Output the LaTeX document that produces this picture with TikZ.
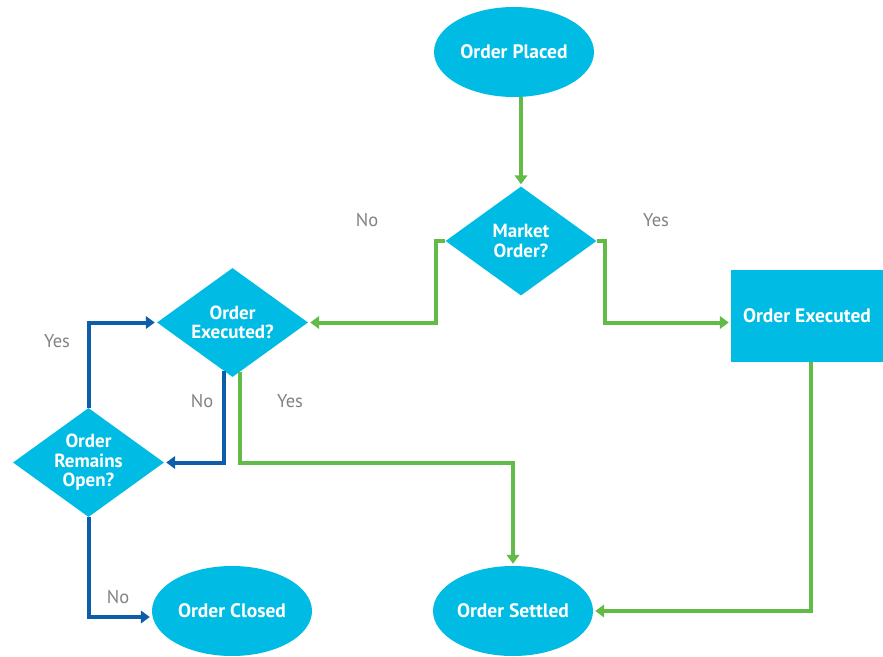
\documentclass[tikz,border=0pt]{standalone}
\usepackage{fontspec}
\setmainfont{PT Sans}
\usepackage{tikz}
\usetikzlibrary{shapes.geometric, arrows.meta, positioning, calc}

\definecolor{boxcyan}{HTML}{00BCE4}
\definecolor{flowgreen}{HTML}{62BB46}
\definecolor{loopblue}{HTML}{0E5DAA}
\definecolor{answergray}{HTML}{808285}

\begin{document}
\begin{tikzpicture}[
    x=1pt, y=-1pt,
    terminal/.style={
        ellipse,
        fill=boxcyan,
        text=white,
        inner sep=0pt,
        minimum width=160pt,
        minimum height=90pt,
        font=\bfseries\fontsize{19.5}{21}\selectfont
    },
    decision/.style={
        diamond,
        aspect=1.385,
        fill=boxcyan,
        text=white,
        align=center,
        inner sep=0pt,
        minimum width=151pt,
        minimum height=109pt,
        font=\bfseries\fontsize{19}{19.5}\selectfont
    },
    process/.style={
        rectangle,
        fill=boxcyan,
        text=white,
        inner sep=0pt,
        minimum width=152pt,
        minimum height=92pt,
        font=\bfseries\fontsize{19.5}{21}\selectfont
    },
    mainflow/.style={draw=flowgreen, line width=4pt, -{Triangle[length=9pt,width=12.5pt]}, shorten >=2pt},
    loopflow/.style={draw=loopblue, line width=4pt, -{Triangle[length=9pt,width=12.5pt]}, shorten >=2pt},
    answer/.style={text=answergray, font=\fontsize{18.5}{20}\selectfont}
]
\useasboundingbox (0,0) rectangle (883,656);

\node[terminal] (placed) at (514,52) {Order Placed};
\node[decision] (market) at (521,241) {Market\\Order?};
\node[decision] (executed) at (232.5,322.5) {Order\\Executed?};
\node[process] (done) at (807,316) {Order Executed};
\node[decision] (open) at (88.5,462.5) {Order\\Remains\\Open?};
\node[terminal] (closed) at (232,611) {Order Closed};
\node[terminal] (settled) at (513,611) {Order Settled};

\node[answer] (marketno) at (367,220) {No};
\node[answer] (marketyes) at (656,220) {Yes};
\node[answer] (openyes) at (57,341) {Yes};
\node[answer] (executedno) at (202,401) {No};
\node[answer] (executedyes) at (290,401) {Yes};
\node[answer] (openno) at (118,597) {No};

\draw[mainflow] (placed.south -| market.north) -- (market.north);
\draw[mainflow] (market.west) -- ++(-9,0) |- (executed.east);
\draw[mainflow] (market.east) -- ++(8,0) |- (done.west |- executed.east);
\draw[mainflow] ([shift={(7pt,5pt)}]executed.south) |- (settled.north |- open.east) -- (settled.north);
\draw[mainflow] ([xshift=4pt]done.south) |- (settled.east);

\draw[loopflow] ([shift={(-9pt,6pt)}]executed.south) |- (open.east);
\draw[loopflow] (open.north) |- (executed.west);
\draw[loopflow] (open.south) |- ([yshift=-6pt]closed.west);

\end{tikzpicture}
\end{document}
